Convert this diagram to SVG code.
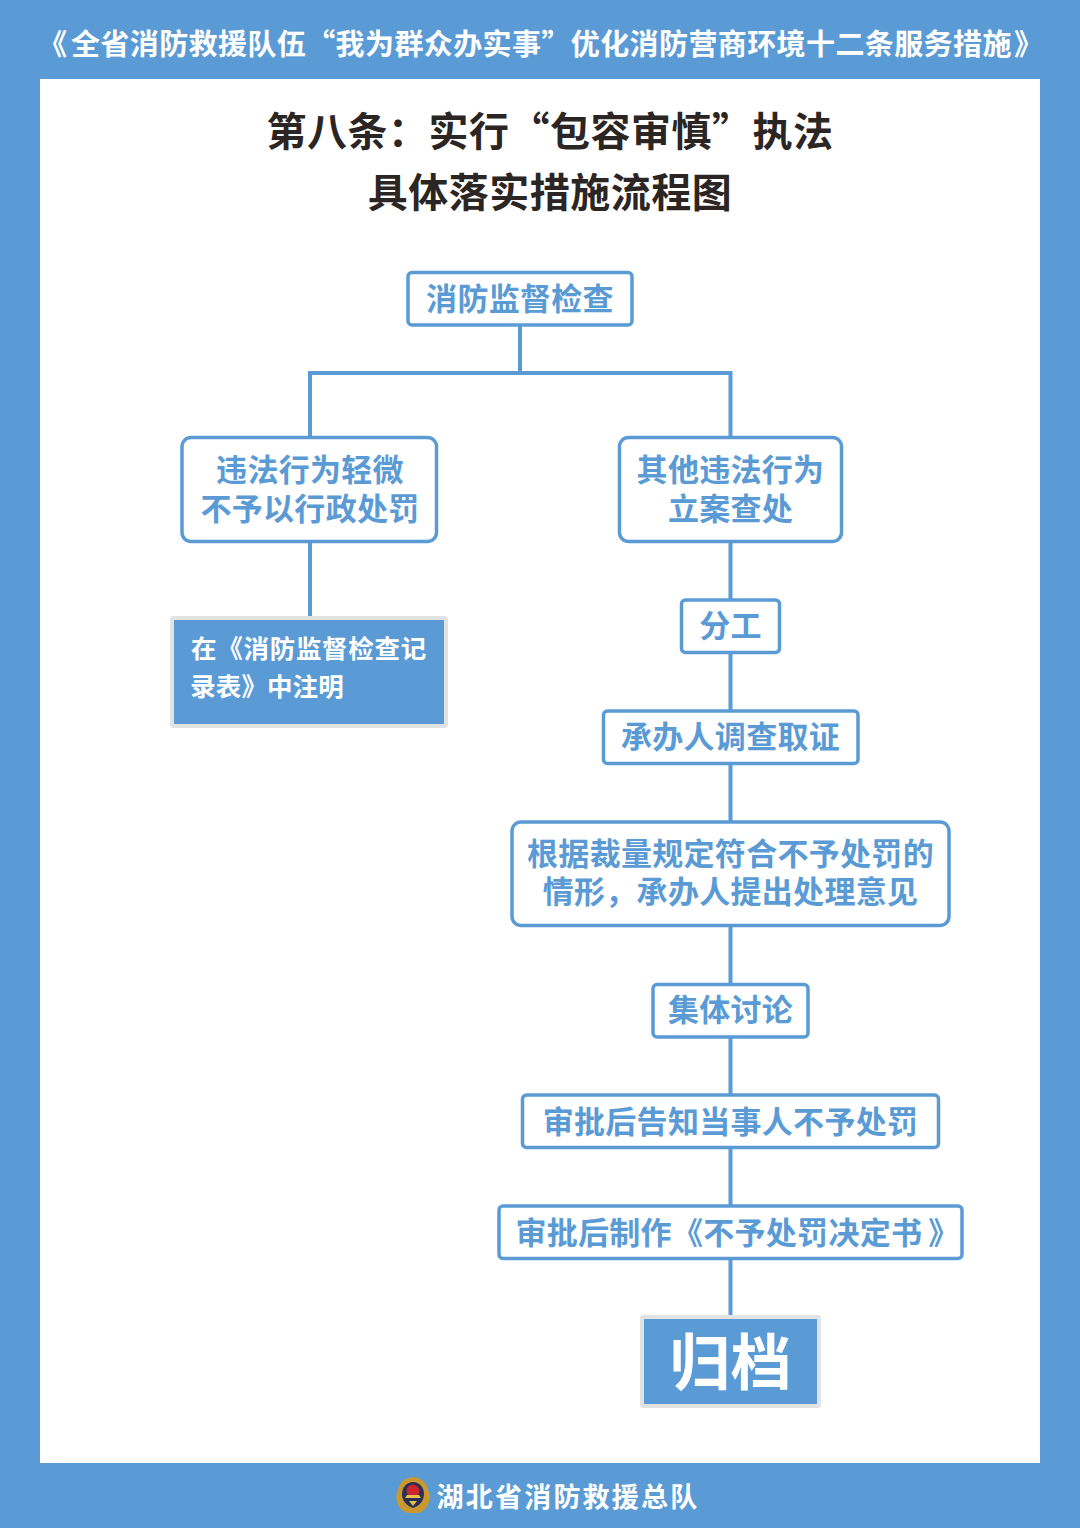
<svg xmlns="http://www.w3.org/2000/svg" width="1080" height="1528" viewBox="0 0 1080 1528">
<style>
text{font-family:"Noto Sans CJK SC","Noto Sans",sans-serif;font-weight:700;text-anchor:middle}
.n{fill:#fff;stroke:#5b9bd5;stroke-width:3.500}
.t{fill:#5b9bd5;font-size:31px;letter-spacing:.3px}
.f{fill:#5b9bd5;stroke:#e3e3e3;stroke-width:4}
.w{fill:#fff}
.h{fill:#2b2523;font-size:40px;letter-spacing:.5px}
.c{fill:none;stroke:#5b9bd5;stroke-width:4}
</style>
<rect width="1080" height="1528" fill="#5b9bd5"/>
<rect x="40" y="79" width="1000" height="1384" fill="#fff"/>
<text class="w" x="38" y="55" font-size="29" letter-spacing=".4" style="text-anchor:start">《<tspan x="71">全省消防救援队伍“我为群众办实事”优化消防营商环境十二条服务措施</tspan><tspan x="1014">》</tspan></text>
<text class="h" x="550" y="146">第八条：实行“包容审慎”执法</text>
<text class="h" x="550" y="207">具体落实措施流程图</text>
<g id="connectors">
<path class="c" d="M520 325V373M310 437V373H730.500V437M310 541V618M730.500 541V1317"/>
</g>
<g id="n1"><rect class="n" x="408" y="272.500" width="224" height="52.500" rx="4"/><text class="t" x="520" y="310">消防监督检查</text></g>
<g id="n2"><rect class="n" x="182" y="437.500" width="254.500" height="104" rx="9"/><text class="t"><tspan x="310" y="481">违法行为轻微</tspan><tspan x="310" y="520">不予以行政处罚</tspan></text></g>
<g id="n3"><rect class="n" x="619.500" y="437.500" width="222" height="104" rx="9"/><text class="t"><tspan x="730.500" y="481">其他违法行为</tspan><tspan x="730.500" y="520">立案查处</tspan></text></g>
<g id="n4"><rect class="f" x="172" y="618" width="274" height="108" rx="1"/><text class="w" x="309" y="658" font-size="25.500" letter-spacing=".7">在《消防监督检查记</text><text class="w" x="267" y="696" font-size="25.500" letter-spacing=".1">录表》中注明</text></g>
<g id="n5"><rect class="n" x="681.500" y="600" width="98" height="52.500" rx="4"/><text class="t" x="730.500" y="637">分工</text></g>
<g id="n6"><rect class="n" x="603.500" y="711" width="254.500" height="52.500" rx="4"/><text class="t" x="730.500" y="748">承办人调查取证</text></g>
<g id="n7"><rect class="n" x="512" y="822" width="437" height="103.500" rx="9"/><text class="t"><tspan x="730.500" y="865">根据裁量规定符合不予处罚的</tspan><tspan x="730.500" y="903">情形，承办人提出处理意见</tspan></text></g>
<g id="n8"><rect class="n" x="653" y="984.500" width="155" height="52.500" rx="4"/><text class="t" x="730.500" y="1021">集体讨论</text></g>
<g id="n9"><rect class="n" x="522.500" y="1095" width="416" height="52.500" rx="4"/><text class="t" x="730.500" y="1133">审批后告知当事人不予处罚</text></g>
<g id="n10"><rect class="n" x="499" y="1206" width="463" height="52.500" rx="4"/><text class="t" x="737.500" y="1244">审批后制作《不予处罚决定书<tspan dx="6">》</tspan></text></g>
<g id="n11"><rect class="f" x="642" y="1317" width="177" height="89" rx="1"/><text class="w" x="730.500" y="1385" font-size="61">归档</text></g>
<g id="emblem"><path d="M413 1477C422 1478 427 1483 428 1490C431 1496 430 1504 425 1509C421 1513 416 1514 413 1513C410 1514 405 1513 401 1509C396 1504 395 1496 398 1490C399 1483 404 1478 413 1477Z" fill="#c9982e"/><path d="M413 1482C419 1482 424 1487 424 1494C424 1501 419 1506 413 1508C407 1506 402 1501 402 1494C402 1487 407 1482 413 1482Z" fill="#2a2f55"/><circle cx="413" cy="1491" r="6.500" fill="#c8252c"/><path d="M407 1495h12l2 3h-16z" fill="#e8c04a"/><path d="M409 1501h8l-4 5z" fill="#e8c04a"/></g>
<text class="w" x="568" y="1507" font-size="27" letter-spacing="2.200">湖北省消防救援总队</text>
</svg>
